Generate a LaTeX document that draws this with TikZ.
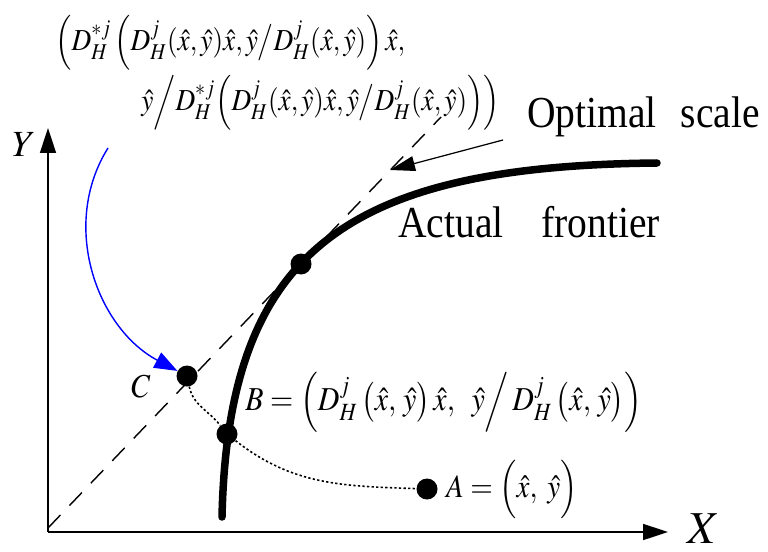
\documentclass[tikz,border=0pt]{standalone}
\usepackage{mathptmx}
\usepackage{fontspec}
\setmainfont{Liberation Serif}
\usetikzlibrary{arrows.meta,positioning}
\tikzset{
  pt/.style={circle,fill=black,inner sep=0pt,minimum size=4.2mm},
  axis/.style={-{Triangle[length=5mm,width=3.2mm]},line width=0.9pt},
  frontier/.style={line width=1.5mm,line cap=round},
  ray/.style={dash pattern=on 3.6mm off 2.6mm,line width=0.8pt},
  trail/.style={dash pattern=on 1.3pt off 1.3pt,line width=0.9pt},
  lbl/.style={font=\fontsize{22.5}{26}\selectfont,inner sep=0pt,yscale=1.12,transform shape},
  eq/.style={font=\fontsize{15.5}{18}\selectfont,inner sep=0pt,yscale=1.12,transform shape},
}

\begin{document}
\begin{tikzpicture}[x=0.2mm,y=-0.2mm]
\useasboundingbox (0,0) rectangle (768,551);
% axes
\coordinate (o) at (48,532);
\coordinate (xe) at (668,532);
\coordinate (ye) at (48,128);
\draw[axis] (o)--(xe);
\draw[axis] (o)--(ye);
\node[font=\fontsize{26}{30}\selectfont,inner sep=0pt] (xl) at (704,529) {$X$};
\node[font=\fontsize{21}{25}\selectfont,inner sep=0pt] (yl) at (24,145) {$Y$};
% optimal scale ray
\coordinate (r0) at (48,528);
\coordinate (r1) at (441,117);
\draw[ray] (r0)--(r1);
% actual frontier
\coordinate (f0) at (222,517);
\coordinate (f1) at (657,163);
\draw[frontier] (f0) .. controls (228,250) and (347,166) .. (f1);
% points
\node[pt] (c) at (187,376) {};
\node[pt] (b) at (227,434) {};
\node[pt] (s) at (301,264) {};
\node[pt] (a) at (427,489) {};
\draw[trail] (c) to[out=-78,in=128] (b) to[out=-38,in=178] (a);
% labels
\node[eq,font=\fontsize{17}{20}\selectfont] (cl) at (141,387) {$C$};
\node[eq,font=\fontsize{16.5}{20}\selectfont,right=1.6mm of a] (al) {$A=\Big(\hat{x},\;\hat{y}\Big)$};
\node[eq,font=\fontsize{17}{20}\selectfont,anchor=west] (bl) at (245,402)
  {$B=\Big(D_H^j\,\big(\hat{x},\,\hat{y}\big)\,\hat{x},\;\;\hat{y}\Big/\,D_H^j\,\big(\hat{x},\,\hat{y}\big)\Big)$};
\node[eq,anchor=west] (f1) at (55,43)
  {$\Big(D_H^{*j}\,\Big(D_H^j(\hat{x},\hat{y})\hat{x},\hat{y}\big/D_H^j(\hat{x},\hat{y})\Big)\,\hat{x},$};
\node[eq,anchor=west] (f2) at (141,103)
  {$\hat{y}\Big/D_H^{*j}\Big(D_H^j(\hat{x},\hat{y})\hat{x},\hat{y}\big/D_H^j(\hat{x},\hat{y})\Big)\Big)$};
\node[lbl,anchor=base west] (os) at (527,128) {Optimal\hspace{0.6em}scale};
\node[lbl,anchor=base west] (af) at (398,237) {Actual\hspace{0.95em}frontier};
% arrows to the points
\coordinate (bs) at (108,148);
\coordinate (ot) at (390,170);
\coordinate (o0) at (503,140);
\draw[blue,line width=0.8pt,-{Triangle[length=4.6mm,width=3.4mm]}] (bs) to[out=-122,in=152] (c);
\draw[line width=0.7pt,-{Triangle[length=5mm,width=3mm]}] (o0)--(ot);
\end{tikzpicture}
\end{document}
